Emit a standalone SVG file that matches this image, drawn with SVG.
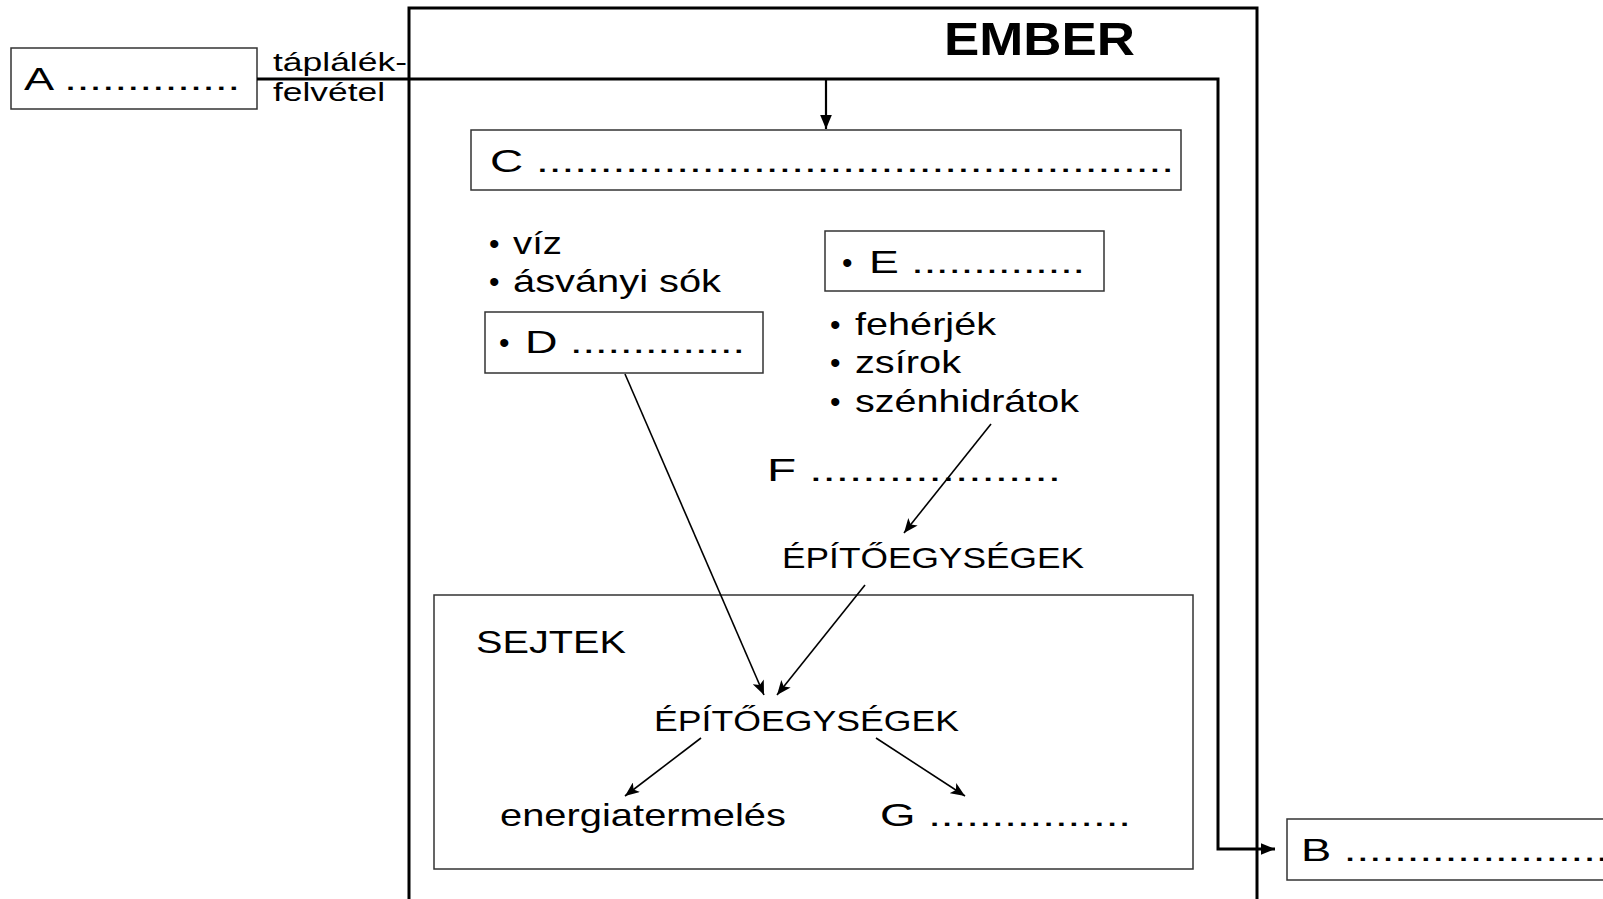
<svg xmlns="http://www.w3.org/2000/svg" width="1603" height="899" viewBox="0 0 1603 899">
<style>
  .t { font-family: "Liberation Sans", Arial, sans-serif; font-size: 32px; fill: #000; }
  .b { font-family: "Liberation Sans", Arial, sans-serif; font-size: 30px; fill: #000; }
  .h { font-family: "Liberation Sans", Arial, sans-serif; font-size: 46px; font-weight: bold; fill: #000; }
  .s { font-family: "Liberation Sans", Arial, sans-serif; font-size: 26px; fill: #000; }
  .u { font-family: "Liberation Sans", Arial, sans-serif; font-size: 30px; fill: #000; }
  .box { fill: #fff; stroke: #333; stroke-width: 1.5; }
  .thin { fill: none; stroke: #000; stroke-width: 1.6; marker-end: url(#ah); }
  .thick { fill: none; stroke: #000; stroke-width: 3; }
</style>
<defs>
  <marker id="ah" viewBox="0 0 12 10" refX="12" refY="5" markerWidth="15" markerHeight="12" markerUnits="userSpaceOnUse" orient="auto">
    <path d="M0,0 L12,5 L0,10 L3,5 Z" fill="#000"/>
  </marker>
  <marker id="ahb" viewBox="0 0 12 10" refX="12" refY="5" markerWidth="14" markerHeight="12" markerUnits="userSpaceOnUse" orient="auto">
    <path d="M0,0 L12,5 L0,10 Z" fill="#000"/>
  </marker>
</defs>
<rect width="1603" height="899" fill="#fff"/>

<g id="ember">
  <rect x="409" y="8" width="848" height="910" fill="none" stroke="#000" stroke-width="3"/>
  <text class="h" x="944" y="55" textLength="191" lengthAdjust="spacingAndGlyphs">EMBER</text>
</g>

<g id="sejtek">
  <rect class="box" x="434" y="595" width="759" height="274" stroke="#555"/>
  <text class="t" x="476" y="653" textLength="150" lengthAdjust="spacingAndGlyphs">SEJTEK</text>
</g>

<g id="A">
  <rect class="box" x="11" y="48" width="246" height="61"/>
  <text class="t" x="24" y="90" textLength="216" lengthAdjust="spacingAndGlyphs">A ..............</text>
</g>

<g id="taplalek">
  <text class="s" x="273" y="71" textLength="134" lengthAdjust="spacingAndGlyphs">táplálék-</text>
  <text class="s" x="273" y="101" textLength="112" lengthAdjust="spacingAndGlyphs">felvétel</text>
</g>

<g id="C">
  <rect class="box" x="471" y="130" width="710" height="60"/>
  <text class="t" x="490" y="172" textLength="684" lengthAdjust="spacingAndGlyphs">C ..................................................</text>
</g>

<g id="viz">
  <text class="b" x="489" y="254">•</text>
  <text class="t" x="513" y="254" textLength="49" lengthAdjust="spacingAndGlyphs">víz</text>
  <text class="b" x="489" y="292">•</text>
  <text class="t" x="513" y="292" textLength="208" lengthAdjust="spacingAndGlyphs">ásványi sók</text>
</g>

<g id="D">
  <rect class="box" x="485" y="312" width="278" height="61"/>
  <text class="b" x="499" y="353">•</text>
  <text class="t" x="525" y="353" textLength="220" lengthAdjust="spacingAndGlyphs">D ..............</text>
</g>

<g id="E">
  <rect class="box" x="825" y="231" width="279" height="60"/>
  <text class="b" x="842" y="273">•</text>
  <text class="t" x="869" y="273" textLength="216" lengthAdjust="spacingAndGlyphs">E ..............</text>
</g>

<g id="tapanyagok">
  <text class="b" x="830" y="335">•</text>
  <text class="t" x="855" y="335" textLength="141" lengthAdjust="spacingAndGlyphs">fehérjék</text>
  <text class="b" x="830" y="373">•</text>
  <text class="t" x="855" y="373" textLength="106" lengthAdjust="spacingAndGlyphs">zsírok</text>
  <text class="b" x="830" y="412">•</text>
  <text class="t" x="855" y="412" textLength="224" lengthAdjust="spacingAndGlyphs">szénhidrátok</text>
</g>

<g id="F">
  <text class="t" x="767" y="481" textLength="294" lengthAdjust="spacingAndGlyphs">F ...................</text>
</g>

<g id="epito1">
  <text class="u" x="782" y="568" textLength="302" lengthAdjust="spacingAndGlyphs">ÉPÍTŐEGYSÉGEK</text>
</g>

<g id="epito2">
  <text class="u" x="654" y="731" textLength="305" lengthAdjust="spacingAndGlyphs">ÉPÍTŐEGYSÉGEK</text>
</g>

<g id="energia">
  <text class="t" x="500" y="826" textLength="286" lengthAdjust="spacingAndGlyphs">energiatermelés</text>
</g>

<g id="G">
  <text class="t" x="880" y="826" textLength="251" lengthAdjust="spacingAndGlyphs">G ................</text>
</g>

<g id="B">
  <rect class="box" x="1287" y="819" width="330" height="61"/>
  <text class="t" x="1301" y="861" textLength="320" lengthAdjust="spacingAndGlyphs">B ......................</text>
</g>

<g id="connectors">
  <path class="thick" d="M257,79 H1218 V849 H1275" marker-end="url(#ahb)"/>
  <path fill="none" stroke="#000" stroke-width="2.2" d="M826,79 V129" marker-end="url(#ahb)"/>
  <path class="thin" d="M625,374 L764,695"/>
  <path class="thin" d="M991,424 L904,533"/>
  <path class="thin" d="M865,585 L777,695"/>
  <path class="thin" d="M701,738 L625,796"/>
  <path class="thin" d="M876,738 L965,796"/>
</g>
</svg>
